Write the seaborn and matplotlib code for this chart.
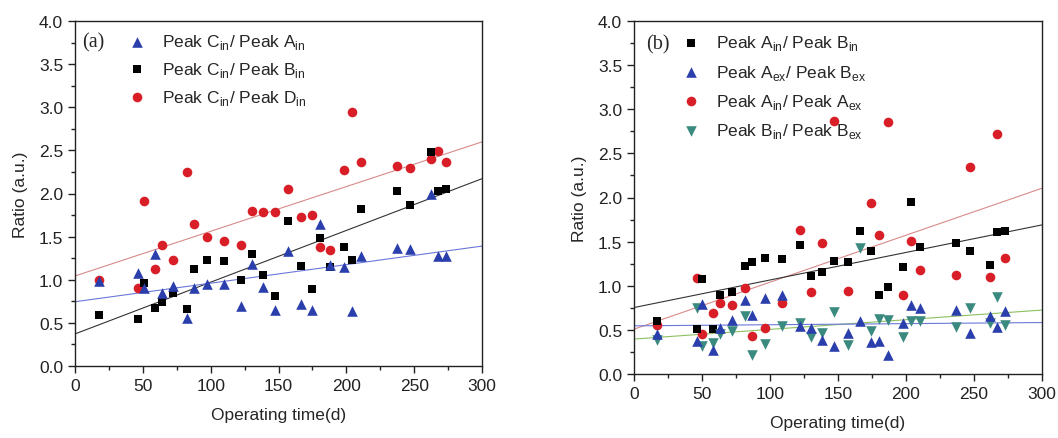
import numpy as np
import pandas as pd
import matplotlib
matplotlib.use("Agg")
import matplotlib.pyplot as plt
import seaborn as sns
from matplotlib.ticker import MultipleLocator

# ---------------- data: panel (a) ----------------
days_a = [17.9, 46.6, 50.8, 58.9, 63.8, 72.6, 82.5, 87.8, 97.6, 109.6, 122.7, 130.5, 138.6,
          147.4, 157.2, 166.6, 174.7, 180.5, 187.7, 198.3, 204.5, 210.6, 237.5, 247.2,
          262.4, 267.5, 273.7]
a_C_over_A = [0.98, 1.08, 0.90, 1.30, 0.85, 0.93, 0.56, 0.90, 0.95, 0.95, 0.70, 1.18, 0.92,
              0.65, 1.33, 0.72, 0.65, 1.65, 1.17, 1.15, 0.64, 1.27, 1.37, 1.36,
              2.00, 1.27, 1.28]
a_C_over_B = [0.59, 0.55, 0.96, 0.67, 0.74, 0.85, 0.66, 1.13, 1.23, 1.22, 1.00, 1.30, 1.05,
              0.81, 1.68, 1.16, 0.89, 1.48, 1.15, 1.38, 1.23, 1.82, 2.03, 1.87,
              2.48, 2.03, 2.05]
a_C_over_D = [1.00, 0.90, 1.91, 1.13, 1.40, 1.23, 2.25, 1.65, 1.49, 1.45, 1.40, 1.80, 1.78,
              1.78, 2.05, 1.73, 1.75, 1.38, 1.35, 2.27, 2.95, 2.37, 2.32, 2.29,
              2.40, 2.49, 2.37]

# ---------------- data: panel (b) ----------------
days_b = [16.7, 46.0, 49.9, 58.0, 63.0, 72.0, 81.9, 86.8, 96.6, 108.9, 122.0, 129.8, 138.0,
          147.0, 157.1, 166.0, 174.1, 180.0, 186.9, 198.0, 203.9, 210.0, 237.0, 246.9,
          261.6, 266.8, 273.0]
b_Ain_over_Bin = [0.60, 0.51, 1.08, 0.51, 0.89, 0.93, 1.22, 1.27, 1.31, 1.30, 1.46, 1.11, 1.16,
                  1.28, 1.27, 1.62, 1.39, 0.90, 0.99, 1.21, 1.95, 1.44, 1.49, 1.39,
                  1.24, 1.61, 1.62]
b_Aex_over_Bex = [0.45, 0.37, 0.79, 0.27, 0.52, 0.61, 0.84, 0.67, 0.86, 0.89, 0.54, 0.52, 0.38,
                  0.32, 0.46, 0.60, 0.36, 0.37, 0.22, 0.58, 0.78, 0.75, 0.72, 0.46,
                  0.66, 0.53, 0.71]
b_Bin_over_Bex = [0.38, 0.75, 0.32, 0.35, 0.45, 0.49, 0.66, 0.22, 0.34, 0.54, 0.58, 0.42, 0.46,
                  0.70, 0.33, 1.43, 0.49, 0.62, 0.61, 0.42, 0.60, 0.60, 0.53, 0.75,
                  0.58, 0.87, 0.56]
days_b_red = [16.7, 46.0, 49.9, 58.0, 63.0, 72.0, 81.9, 86.8, 96.6, 108.9, 122.0, 129.8, 138.0,
              147.0, 157.1, 174.1, 180.0, 186.9, 198.0, 203.9, 210.0, 237.0, 246.9,
              261.6, 266.8, 273.0]
b_Ain_over_Aex = [0.55, 1.09, 0.45, 0.69, 0.80, 0.78, 0.98, 0.43, 0.52, 0.80, 1.63, 0.93, 1.48,
                  2.87, 0.94, 1.94, 1.58, 2.86, 0.89, 1.51, 1.18, 1.12, 2.34,
                  1.10, 2.72, 1.32]

labels_a = [r"Peak C$_{\mathregular{in}}$/ Peak A$_{\mathregular{in}}$",
            r"Peak C$_{\mathregular{in}}$/ Peak B$_{\mathregular{in}}$",
            r"Peak C$_{\mathregular{in}}$/ Peak D$_{\mathregular{in}}$"]
labels_b = [r"Peak A$_{\mathregular{in}}$/ Peak B$_{\mathregular{in}}$",
            r"Peak A$_{\mathregular{ex}}$/ Peak B$_{\mathregular{ex}}$",
            r"Peak A$_{\mathregular{in}}$/ Peak A$_{\mathregular{ex}}$",
            r"Peak B$_{\mathregular{in}}$/ Peak B$_{\mathregular{ex}}$"]

RED = "#d81e26"
BLUE = "#2a3eac"
BLACK = "#000000"
GREEN = "#3b8a80"

sns.set_style("ticks")
plt.rcParams["font.family"] = ["Liberation Sans", "DejaVu Sans"]
plt.rcParams["mathtext.fontset"] = "custom"
plt.rcParams["mathtext.rm"] = "Liberation Sans"

fig = plt.figure(figsize=(10.58, 4.39), dpi=100)
ax_a = fig.add_axes([75 / 1058, 1 - 367 / 439, 407 / 1058, 345 / 439])
ax_b = fig.add_axes([634 / 1058, 1 - 375 / 439, 408 / 1058, 353 / 439])

S_SQ, S_CI, S_TRI = 36, 48, 58

def style_axes(ax):
    ax.set_xlim(0, 300)
    ax.set_ylim(0, 4.0)
    ax.xaxis.set_major_locator(MultipleLocator(50))
    ax.xaxis.set_minor_locator(MultipleLocator(25))
    ax.yaxis.set_major_locator(MultipleLocator(0.5))
    ax.yaxis.set_minor_locator(MultipleLocator(0.25))
    ax.yaxis.set_major_formatter(matplotlib.ticker.FormatStrFormatter("%.1f"))
    ax.tick_params(which="major", direction="out", length=5, width=1, labelsize=12.5,
                   top=False, right=False, colors="#222222")
    ax.tick_params(which="minor", direction="out", length=3, width=1, top=False, right=False,
                   colors="#222222")
    for sp in ax.spines.values():
        sp.set_visible(True)
        sp.set_linewidth(1.0)
        sp.set_color("#222222")
    ax.set_xlabel("Operating time(d)", fontsize=12.5, labelpad=10)
    ax.set_ylabel("Ratio (a.u.)", fontsize=12.5, labelpad=8)

def fit(ax, x, y, color):
    ax.set_xlim(0, 300)
    sns.regplot(x=np.array(x), y=np.array(y), ax=ax, scatter=False, ci=None,
                truncate=False, line_kws=dict(color=color, lw=0.8))

# ---- panel (a) ----
df_a = pd.DataFrame({"day": days_a, "CA": a_C_over_A, "CB": a_C_over_B, "CD": a_C_over_D})
fit(ax_a, days_a, a_C_over_D, "#d88a8a")
fit(ax_a, days_a, a_C_over_B, "#333333")
fit(ax_a, days_a, a_C_over_A, "#6a78d8")
sns.scatterplot(data=df_a, x="day", y="CD", ax=ax_a, marker="o", s=S_CI, color=RED,
                linewidth=0, label=labels_a[2], zorder=3)
sns.scatterplot(data=df_a, x="day", y="CB", ax=ax_a, marker="s", s=S_SQ, color=BLACK,
                linewidth=0, label=labels_a[1], zorder=3)
sns.scatterplot(data=df_a, x="day", y="CA", ax=ax_a, marker="^", s=S_TRI, color=BLUE,
                linewidth=0, label=labels_a[0], zorder=3)
style_axes(ax_a)
h, l = ax_a.get_legend_handles_labels()
order = [l.index(t) for t in labels_a]
ax_a.legend([h[i] for i in order], [l[i] for i in order], loc="upper left",
            bbox_to_anchor=(0.1, 1.0), frameon=False, fontsize=12.5, handlelength=1.2,
            handletextpad=0.8, labelspacing=0.5, borderaxespad=0.25)
ax_a.text(0.018, 0.94, "(a)", transform=ax_a.transAxes, va="center", ha="left",
          fontsize=14.5, family=["Liberation Serif", "DejaVu Serif"])

# ---- panel (b) ----
df_b = pd.DataFrame({"day": days_b, "AB_in": b_Ain_over_Bin, "AB_ex": b_Aex_over_Bex,
                     "BB": b_Bin_over_Bex})
df_b_red = pd.DataFrame({"day": days_b_red, "AA": b_Ain_over_Aex})
fit(ax_b, days_b_red, b_Ain_over_Aex, "#d88a8a")
fit(ax_b, days_b, b_Ain_over_Bin, "#333333")
fit(ax_b, days_b, b_Bin_over_Bex, "#8cc060")
fit(ax_b, days_b, b_Aex_over_Bex, "#6a78d8")
sns.scatterplot(data=df_b_red, x="day", y="AA", ax=ax_b, marker="o", s=S_CI, color=RED,
                linewidth=0, label=labels_b[2], zorder=3)
sns.scatterplot(data=df_b, x="day", y="AB_in", ax=ax_b, marker="s", s=S_SQ, color=BLACK,
                linewidth=0, label=labels_b[0], zorder=3)
sns.scatterplot(data=df_b, x="day", y="BB", ax=ax_b, marker="v", s=S_TRI, color=GREEN,
                linewidth=0, label=labels_b[3], zorder=3)
sns.scatterplot(data=df_b, x="day", y="AB_ex", ax=ax_b, marker="^", s=S_TRI, color=BLUE,
                linewidth=0, label=labels_b[1], zorder=3)
style_axes(ax_b)
h, l = ax_b.get_legend_handles_labels()
order = [l.index(t) for t in labels_b]
ax_b.legend([h[i] for i in order], [l[i] for i in order], loc="upper left",
            bbox_to_anchor=(0.085, 1.0), frameon=False, fontsize=12.5, handlelength=1.2,
            handletextpad=0.8, labelspacing=0.6, borderaxespad=0.3)
ax_b.text(0.03, 0.935, "(b)", transform=ax_b.transAxes, va="center", ha="left",
          fontsize=14.5, family=["Liberation Serif", "DejaVu Serif"])

fig.savefig("out.png", dpi=100)
